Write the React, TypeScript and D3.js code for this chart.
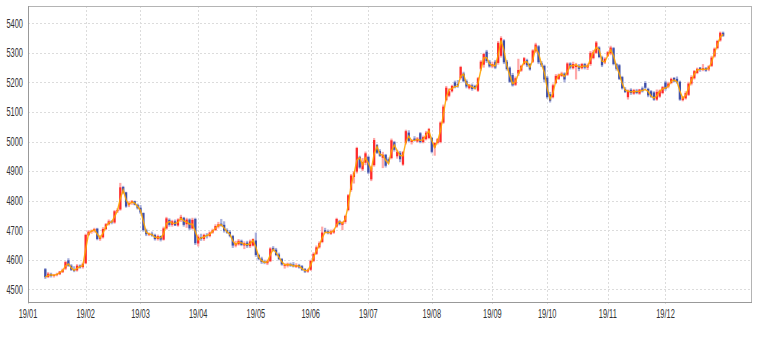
import React from "react";
import * as d3 from "d3";

// Trading-day index of first candle (0 = 2019-01-04)
const START_INDEX = 5;

const opens = [
4568,4542,4552,4545,4548,4551,4558,4570,4598,4580,4566,4564,4580,4575,
4588,4684,4695,4698,4705,4670,4676,4704,4720,4730,4726,4764,4770,4846,4828,4785,4792,4798,4786,
4776,4758,4700,4686,4688,4684,4670,4680,4668,4706,4735,4718,4730,4716,4736,4742,4720,4736,4706,4738,
4655,4676,4670,4684,4680,4692,4700,4712,4722,4718,4700,4694,4680,4648,4652,4664,4648,4658,4646,4648,
4665,4616,4604,4594,4588,4595,4640,4634,4618,4602,4580,4580,4586,4584,4576,4582,4578,4568,4560,
4566,4596,4620,4642,4660,4700,4696,4688,4692,4712,4730,4718,4728,4768,4836,4880,4898,4948,4906,4928,
4948,4872,4920,4988,4968,4945,4955,4940,4944,4998,4950,4962,4922,4996,5030,4998,5010,5000,5028,4998,5008,5012,
5012,4980,4995,4998,5064,5140,5155,5170,5200,5195,5215,5230,5205,5180,5190,5188,5172,5246,5260,5304,5270,
5254,5270,5266,5290,5342,5270,5250,5225,5192,5230,5240,5262,5275,5262,5270,5305,5322,5266,5256,
5216,5160,5150,5198,5212,5222,5230,5226,5264,5248,5252,5256,5248,5262,5250,5262,5282,5300,5318,5285,5268,
5290,5298,5316,5262,5258,5218,5178,5150,5175,5162,5172,5162,5180,5198,5178,5170,5166,5142,5152,5164,
5200,5186,5198,5215,5212,5202,5140,5146,5158,5196,5214,5232,5250,5242,5248,5244,5256,5288,5316,5342,5368,
];

const highs = [
4572,4558,4556,4552,4556,4562,4570,4596,4605,4585,4578,4585,4584,4590,
4688,4700,4702,4708,4708,4684,4710,4724,4736,4734,4768,4774,4860,4850,4830,4798,4802,4800,4790,
4785,4760,4705,4692,4695,4688,4685,4682,4712,4745,4740,4735,4736,4740,4752,4745,4742,4740,4742,4742,
4685,4688,4688,4690,4696,4705,4720,4728,4738,4730,4706,4700,4684,4664,4670,4668,4662,4664,4668,4672,
4692,4620,4610,4600,4600,4642,4646,4640,4624,4606,4588,4590,4590,4592,4588,4586,4582,4572,4570,
4600,4625,4648,4662,4712,4708,4702,4702,4705,4742,4735,4730,4752,4822,4890,4900,4982,4952,4944,4966,
4952,4918,5012,4992,4974,4965,4958,4946,5010,5002,4972,4968,4968,5040,5038,5008,5018,5015,5032,5020,5036,5046,
5016,4998,5012,5068,5125,5188,5180,5192,5206,5208,5256,5236,5210,5195,5196,5192,5218,5275,5300,5310,5276,
5270,5276,5340,5356,5346,5276,5254,5232,5220,5280,5260,5286,5280,5266,5312,5334,5326,5272,5260,
5222,5168,5196,5228,5230,5236,5234,5268,5268,5270,5266,5262,5266,5266,5264,5306,5310,5340,5322,5290,5285,
5306,5324,5320,5266,5262,5222,5184,5176,5180,5178,5178,5178,5186,5204,5182,5174,5170,5176,5176,5188,
5206,5202,5216,5218,5220,5206,5154,5170,5202,5224,5242,5250,5252,5262,5252,5258,5290,5318,5344,5372,5372,
];

const lows = [
4535,4538,4540,4540,4544,4548,4555,4565,4576,4562,4558,4560,4570,4570,
4585,4680,4688,4692,4666,4664,4672,4700,4716,4720,4722,4758,4766,4822,4776,4778,4786,4784,4770,
4755,4695,4680,4680,4678,4665,4665,4662,4665,4702,4712,4712,4714,4712,4728,4712,4708,4700,4702,4650,
4645,4664,4664,4672,4676,4688,4698,4706,4712,4692,4688,4676,4640,4642,4648,4646,4636,4640,4640,4645,
4610,4598,4586,4585,4582,4592,4628,4612,4598,4580,4570,4574,4576,4574,4572,4570,4562,4555,4556,
4562,4592,4616,4638,4656,4690,4686,4684,4688,4708,4716,4700,4722,4764,4830,4858,4892,4908,4900,4920,
4890,4866,4915,4958,4948,4910,4912,4926,4940,4966,4942,4930,4918,4990,4998,4990,5000,4996,4994,4994,5004,5008,
4960,4952,4990,4994,5060,5136,5150,5166,5180,5182,5210,5200,5180,5176,5172,5176,5168,5240,5250,5266,5250,
5248,5245,5260,5284,5262,5240,5198,5186,5188,5222,5236,5258,5252,5240,5266,5300,5262,5252,5200,
5145,5132,5146,5194,5208,5218,5200,5222,5244,5244,5210,5238,5244,5244,5242,5256,5278,5296,5282,5252,5262,
5286,5292,5258,5240,5208,5176,5164,5142,5158,5158,5160,5158,5166,5178,5150,5148,5138,5138,5148,5160,
5172,5180,5194,5200,5196,5138,5136,5142,5154,5190,5210,5228,5236,5238,5236,5238,5252,5284,5312,5338,5354,
];

const closes = [
4541,4553,4545,4549,4552,4560,4566,4592,4580,4566,4562,4580,4574,4586,
4684,4695,4698,4704,4670,4676,4704,4720,4730,4726,4764,4768,4845,4826,4780,4792,4798,4786,4774,
4760,4700,4686,4688,4682,4670,4680,4668,4706,4740,4718,4730,4716,4736,4745,4718,4736,4706,4735,4656,
4678,4670,4684,4680,4692,4700,4714,4720,4716,4698,4692,4680,4648,4655,4664,4650,4656,4646,4662,4670,
4616,4602,4592,4590,4596,4638,4632,4616,4602,4584,4582,4586,4580,4578,4582,4574,4566,4560,4566,
4596,4620,4642,4656,4692,4694,4690,4696,4700,4738,4720,4726,4748,4818,4885,4895,4978,4912,4930,4960,
4895,4912,5005,4962,4952,4955,4918,4932,5004,4972,4965,4940,4964,5035,5002,5004,5004,5010,4998,5015,5030,5042,
4965,4995,5008,5064,5118,5182,5170,5188,5184,5190,5252,5204,5186,5192,5178,5180,5214,5270,5296,5272,5254,
5262,5250,5334,5350,5268,5245,5202,5190,5214,5242,5256,5282,5258,5244,5308,5328,5268,5258,5210,
5150,5138,5190,5222,5226,5230,5210,5264,5250,5262,5258,5246,5262,5250,5258,5300,5302,5335,5286,5258,5280,
5302,5318,5262,5246,5212,5180,5168,5172,5164,5174,5164,5176,5170,5182,5156,5152,5142,5168,5172,5184,
5178,5196,5212,5204,5200,5142,5150,5164,5196,5218,5238,5246,5242,5248,5240,5254,5284,5314,5340,5368,5358,
];

const yTicks = [4500, 4600, 4700, 4800, 4900, 5000, 5100, 5200, 5300, 5400];
const monthLabels = ["19/01", "19/02", "19/03", "19/04", "19/05", "19/06", "19/07", "19/08", "19/09", "19/10", "19/11", "19/12"];
const monthStartIndex = [-1, 19, 38, 58, 78, 97, 117, 139, 160, 179, 200, 220];

const MA_PERIOD = 2;

export default function App() {
  const W = 765, H = 337;
  const left = 28, right = 752, top = 6, bottom = 303;
  const x = d3.scaleLinear().domain([-1, 250]).range([left, right]);
  const y = d3.scaleLinear().domain([4453.6, 5458.5]).range([bottom, top]);

  const candles = closes.map((c, k) => ({
    i: START_INDEX + k,
    o: opens[k], h: highs[k], l: lows[k], c,
  }));

  const ma = candles.map((d, k) => {
    const s = Math.max(0, k - MA_PERIOD + 1);
    return { i: d.i, v: d3.mean(closes.slice(s, k + 1)) as number };
  });
  const line = d3.line<{ i: number; v: number }>().x((d) => x(d.i)).y((d) => y(d.v));

  const bw = 2.2;
  const font = "'Liberation Sans', Arial, sans-serif";
  const sx = 0.62;

  return (
    <div style={{ position: "absolute", left: 0, top: 0 }}>
      <svg width={W} height={H} style={{ display: "block", background: "#fff" }}>
        {/* grid */}
        {yTicks.map((t) => (
          <line key={"gy" + t} x1={left} x2={right} y1={Math.round(y(t)) + 0.5} y2={Math.round(y(t)) + 0.5}
            stroke="#dcdcdc" strokeDasharray="2,2" />
        ))}
        {monthStartIndex.map((m, k) => (
          <line key={"gx" + k} x1={Math.round(x(m)) + 0.5} x2={Math.round(x(m)) + 0.5} y1={top} y2={bottom + 3}
            stroke="#dcdcdc" strokeDasharray="2,2" />
        ))}
        {/* candles */}
        {candles.map((d) => {
          const up = d.c >= d.o;
          const cx = x(d.i);
          const bodyTop = y(Math.max(d.o, d.c));
          const bodyBot = y(Math.min(d.o, d.c));
          return (
            <g key={d.i}>
              <rect x={cx - bw / 2} width={bw} y={y(d.h)} height={Math.max(1, y(d.l) - y(d.h))}
                fill={up ? "#ffa8a8" : "#a9b0dc"} />
              <rect x={cx - bw / 2} width={bw} y={bodyTop} height={Math.max(1, bodyBot - bodyTop)}
                fill={up ? "#ff2a2a" : "#3f4fa8"} />
            </g>
          );
        })}
        <path d={line(ma) || ""} fill="none" stroke="#ffa500" strokeWidth={1.4} strokeOpacity={0.9} />
        {/* frame */}
        <rect x={left + 0.5} y={top + 0.5} width={right - left - 1} height={bottom - top - 1}
          fill="none" stroke="#b4b4b4" />
        <line x1={left + 0.5} x2={left + 0.5} y1={top} y2={bottom} stroke="#999" />
        <line x1={left} x2={right} y1={bottom - 0.5} y2={bottom - 0.5} stroke="#999" />
        {/* labels */}
        {yTicks.map((t) => (
          <text key={"ly" + t} transform={`translate(23,${y(t)}) scale(${sx},1)`} dy="0.36em" textAnchor="end"
            fontFamily={font} fontSize={12} fill="#333">{t}</text>
        ))}
        {monthStartIndex.map((m, k) => (
          <text key={"lx" + k} transform={`translate(${x(m)},317.8) scale(${sx},1)`} textAnchor="middle"
            fontFamily={font} fontSize={12} fill="#333">{monthLabels[k]}</text>
        ))}
      </svg>
    </div>
  );
}
